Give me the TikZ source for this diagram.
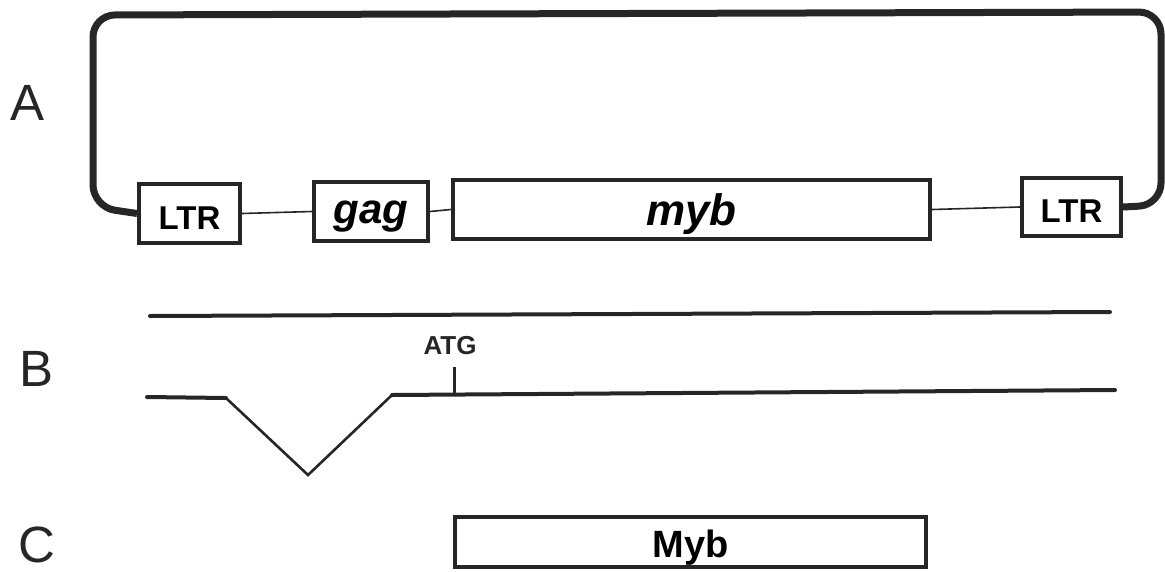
\documentclass[tikz,border=0pt]{standalone}
\usepackage{fontspec}
\setmainfont{Liberation Sans}
\begin{document}
\begin{tikzpicture}[x=1pt,y=-1pt,
  lbl/.style={font=\fontsize{51}{51}\selectfont, text=black!85, inner sep=0},
  gbox/.style={draw=black!85, line width=4pt, inner sep=0, fill=white, text depth=0pt},
  thin/.style={draw=black!85, line width=1.6pt},
  loop/.style={draw=black!85, line width=7pt, rounded corners=22pt},
  dna/.style={draw=black!85, line width=4pt, line cap=round},
  vee/.style={draw=black!85, line width=2.6pt}]
\useasboundingbox (0,0) rectangle (1165,571);
% labels
\node[lbl] (la) at (28,103) {A};
\node[lbl] (lb) at (37,369) {B};
\node[lbl] (lc) at (37,545) {C};
% A: provirus
\node[gbox, minimum width=101pt, minimum height=59pt, text height=31pt, font=\bfseries\fontsize{33}{33}\selectfont] (ltr1) at (189.5,213.5) {LTR};
\node[gbox, minimum width=114pt, minimum height=59pt, text height=23pt, font=\bfseries\itshape\fontsize{42}{42}\selectfont] (gag) at (371,211.5) {gag};
\node[gbox, minimum width=477pt, minimum height=59pt, text height=31pt, font=\bfseries\itshape\fontsize{44}{44}\selectfont] (myb) at (691.5,209.5) {myb};
\node[gbox, minimum width=99pt, minimum height=58pt, text height=31pt, font=\bfseries\fontsize{33}{33}\selectfont] (ltr2) at (1071.5,207) {LTR};
\draw[thin] (ltr1.east) -- (gag.west);
\draw[thin] (gag.east) -- (myb.west);
\draw[thin] (myb.east) -- (ltr2.west);
\draw[loop] (ltr1.west) -- (93,207) -- (93,15) -- (1161,12) -- (1161,205) -- (ltr2.east);
% B: transcripts
\coordinate (b1) at (150,316);
\coordinate (b2) at (1110,312);
\draw[dna] (b1) -- (b2);
\coordinate (c1) at (147,397);
\coordinate (c2) at (226,398);
\coordinate (c3) at (308,475);
\coordinate (c4) at (392,395);
\coordinate (c5) at (1115,390);
\draw[dna] (c1) -- (c2);
\draw[vee] (c2) -- (c3) -- (c4);
\draw[dna] (c4) -- (c5);
\coordinate (atgb) at (454,393);
\coordinate (atgt) at (454,367);
\draw[draw=black!85, line width=3pt] (atgb) -- (atgt);
\node[font=\bfseries\fontsize{26}{26}\selectfont, text=black!85, inner sep=0] (atg) at (450,346) {ATG};
% C: protein
\node[gbox, minimum width=471pt, minimum height=50pt, text height=31pt, font=\bfseries\fontsize{38}{38}\selectfont] (prot) at (690.5,541.5) {Myb};
\end{tikzpicture}
\end{document}
